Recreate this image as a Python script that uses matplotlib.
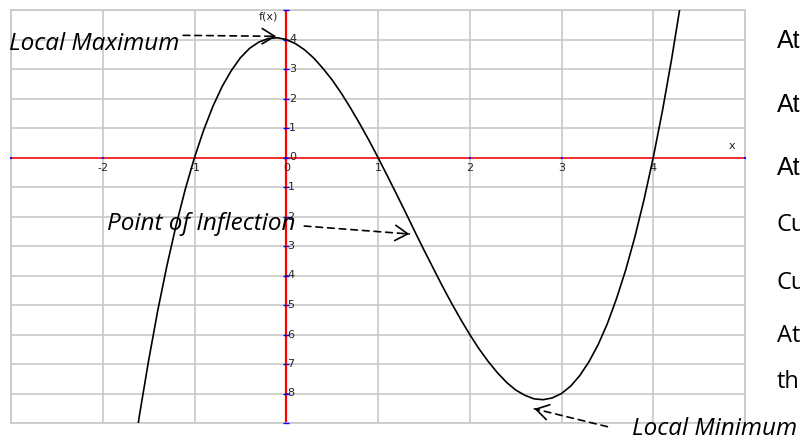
import matplotlib
matplotlib.use("Agg")
import matplotlib.pyplot as plt

# curve points
xs = [-1.7, -1.6, -1.5, -1.4, -1.3, -1.2, -1.1, -1.0, -0.9, -0.8, -0.7, -0.6, -0.5,
      -0.4, -0.3, -0.2, -0.1, 0.0, 0.1, 0.2, 0.3, 0.4, 0.5, 0.6, 0.7, 0.8, 0.9, 1.0,
      1.1, 1.2, 1.3, 1.4, 1.5, 1.6, 1.7, 1.8, 1.9, 2.0, 2.1, 2.2, 2.3, 2.4, 2.5, 2.6,
      2.7, 2.8, 2.9, 3.0, 3.1, 3.2, 3.3, 3.4, 3.5, 3.6, 3.7, 3.8, 3.9, 4.0, 4.1, 4.2, 4.3]
ys = [-10.77, -8.74, -6.88, -5.18, -3.66, -2.29, -1.07, 0.0, 0.93, 1.73, 2.40, 2.94, 3.38,
      3.70, 3.91, 4.03, 4.06, 4.0, 3.86, 3.65, 3.37, 3.02, 2.63, 2.18, 1.68, 1.15, 0.59, 0.0,
      -0.61, -1.23, -1.86, -2.50, -3.13, -3.74, -4.35, -4.93, -5.48, -6.0, -6.48, -6.91, -7.29,
      -7.62, -7.88, -8.06, -8.18, -8.21, -8.15, -8.0, -7.75, -7.39, -6.92, -6.34, -5.63, -4.78,
      -3.81, -2.69, -1.42, 0.0, 1.58, 3.33, 5.25]

x_ticks = [-2, -1, 0, 1, 2, 3, 4]
y_ticks = [4, 3, 2, 1, 0, -1, -2, -3, -4, -5, -6, -7, -8]
right_labels = ["At", "At", "At", "Cu", "Cu", "At", "th"]
right_label_base_px = [48, 112, 175, 231, 289, 342, 388]
right_label_font = ["Liberation Sans", "Liberation Sans", "Liberation Sans",
                    "Open Sans", "Open Sans", "Open Sans", "Open Sans"]

W, H = 800, 438
fig = plt.figure(figsize=(W / 100, H / 100), dpi=100)
ax = fig.add_axes([11 / W, 1 - 423 / H, (745 - 11) / W, (423 - 10) / H])
ax.set_xlim(-3, 5)
ax.set_ylim(-9, 5)

grid_c = "#c8c8c8"
for gx in range(-3, 6):
    ax.axvline(gx, color=grid_c, lw=1.2, zorder=1)
for gy in range(-9, 6):
    ax.axhline(gy, color=grid_c, lw=1.2, zorder=1)
for s in ax.spines.values():
    s.set_color(grid_c)
    s.set_linewidth(1.2)
ax.set_xticks([])
ax.set_yticks([])

# axes
ax.axhline(0, color="red", lw=1.1, zorder=2)
ax.axvline(0, color="red", lw=1.6, zorder=2)
# blue tick marks
ax.plot([0] * 15, list(range(-9, 6)), ls="none", marker="_", ms=5, mew=1.0,
        color="blue", zorder=3, clip_on=False)
ax.plot(list(range(-3, 6)), [0] * 9, ls="none", marker="s", ms=1.6, mew=0,
        color="blue", zorder=3, clip_on=False)

tick_font = dict(family="DejaVu Sans", fontsize=8, color="#222222")
for t in x_ticks:
    ax.text(t, -0.18, str(t), ha="center", va="top", zorder=4, **tick_font)
for t in y_ticks:
    if t < 0:
        ax.text(-0.02, t, str(t), ha="left", va="center", zorder=4, **tick_font)
    else:
        ax.text(0.03, t, str(t), ha="left", va="center", zorder=4, **tick_font)
ax.text(4.86, 0.22, "x", ha="center", va="bottom", zorder=4, **tick_font)
ax.text(-0.2, 4.78, "f(x)", ha="center", va="center", zorder=4, **tick_font)

# curve
ax.plot(xs, ys, color="black", lw=1.2, zorder=5)


def px2d(px, py):
    return ((px - 287) / 91.7, (157 - py) / 29.7)


def dashed_arrow(tail_px, tip_px):
    tail = px2d(*tail_px)
    tip = px2d(*tip_px)
    ax.annotate("", xy=tip, xytext=tail,
                arrowprops=dict(arrowstyle="-", ls=(0, (4, 3)), lw=1.2, color="black",
                                shrinkA=0, shrinkB=0),
                annotation_clip=False, zorder=6)
    # solid open head
    dx, dy = tip_px[0] - tail_px[0], tip_px[1] - tail_px[1]
    L = (dx ** 2 + dy ** 2) ** 0.5
    back = (tip_px[0] - dx / L * 4, tip_px[1] - dy / L * 4)
    ax.annotate("", xy=tip, xytext=px2d(*back),
                arrowprops=dict(arrowstyle="->,head_length=0.9,head_width=0.55", lw=1.2,
                                color="black", shrinkA=0, shrinkB=0),
                annotation_clip=False, zorder=6)


lab_font = dict(family="Open Sans", style="italic", fontsize=17.5, color="black")
ax.text(*px2d(10, 49), "Local Maximum", ha="left", va="baseline", zorder=7, **lab_font)
dashed_arrow((184, 34), (277, 35))
ax.text(*px2d(296, 230), "Point of Inflection", ha="right", va="baseline", zorder=7, **lab_font)
dashed_arrow((305, 226), (410, 234))
ax.text(*px2d(633, 436), "Local Minimum", ha="left", va="baseline", zorder=7, **lab_font)
dashed_arrow((608, 428), (535, 410))

for lab, py, fam in zip(right_labels, right_label_base_px, right_label_font):
    fig.text(777 / W, 1 - py / H, lab, ha="left", va="baseline", family=fam,
             fontsize=18 if fam == "Liberation Sans" else 17, color="black")

fig.savefig("out.png", dpi=100)
